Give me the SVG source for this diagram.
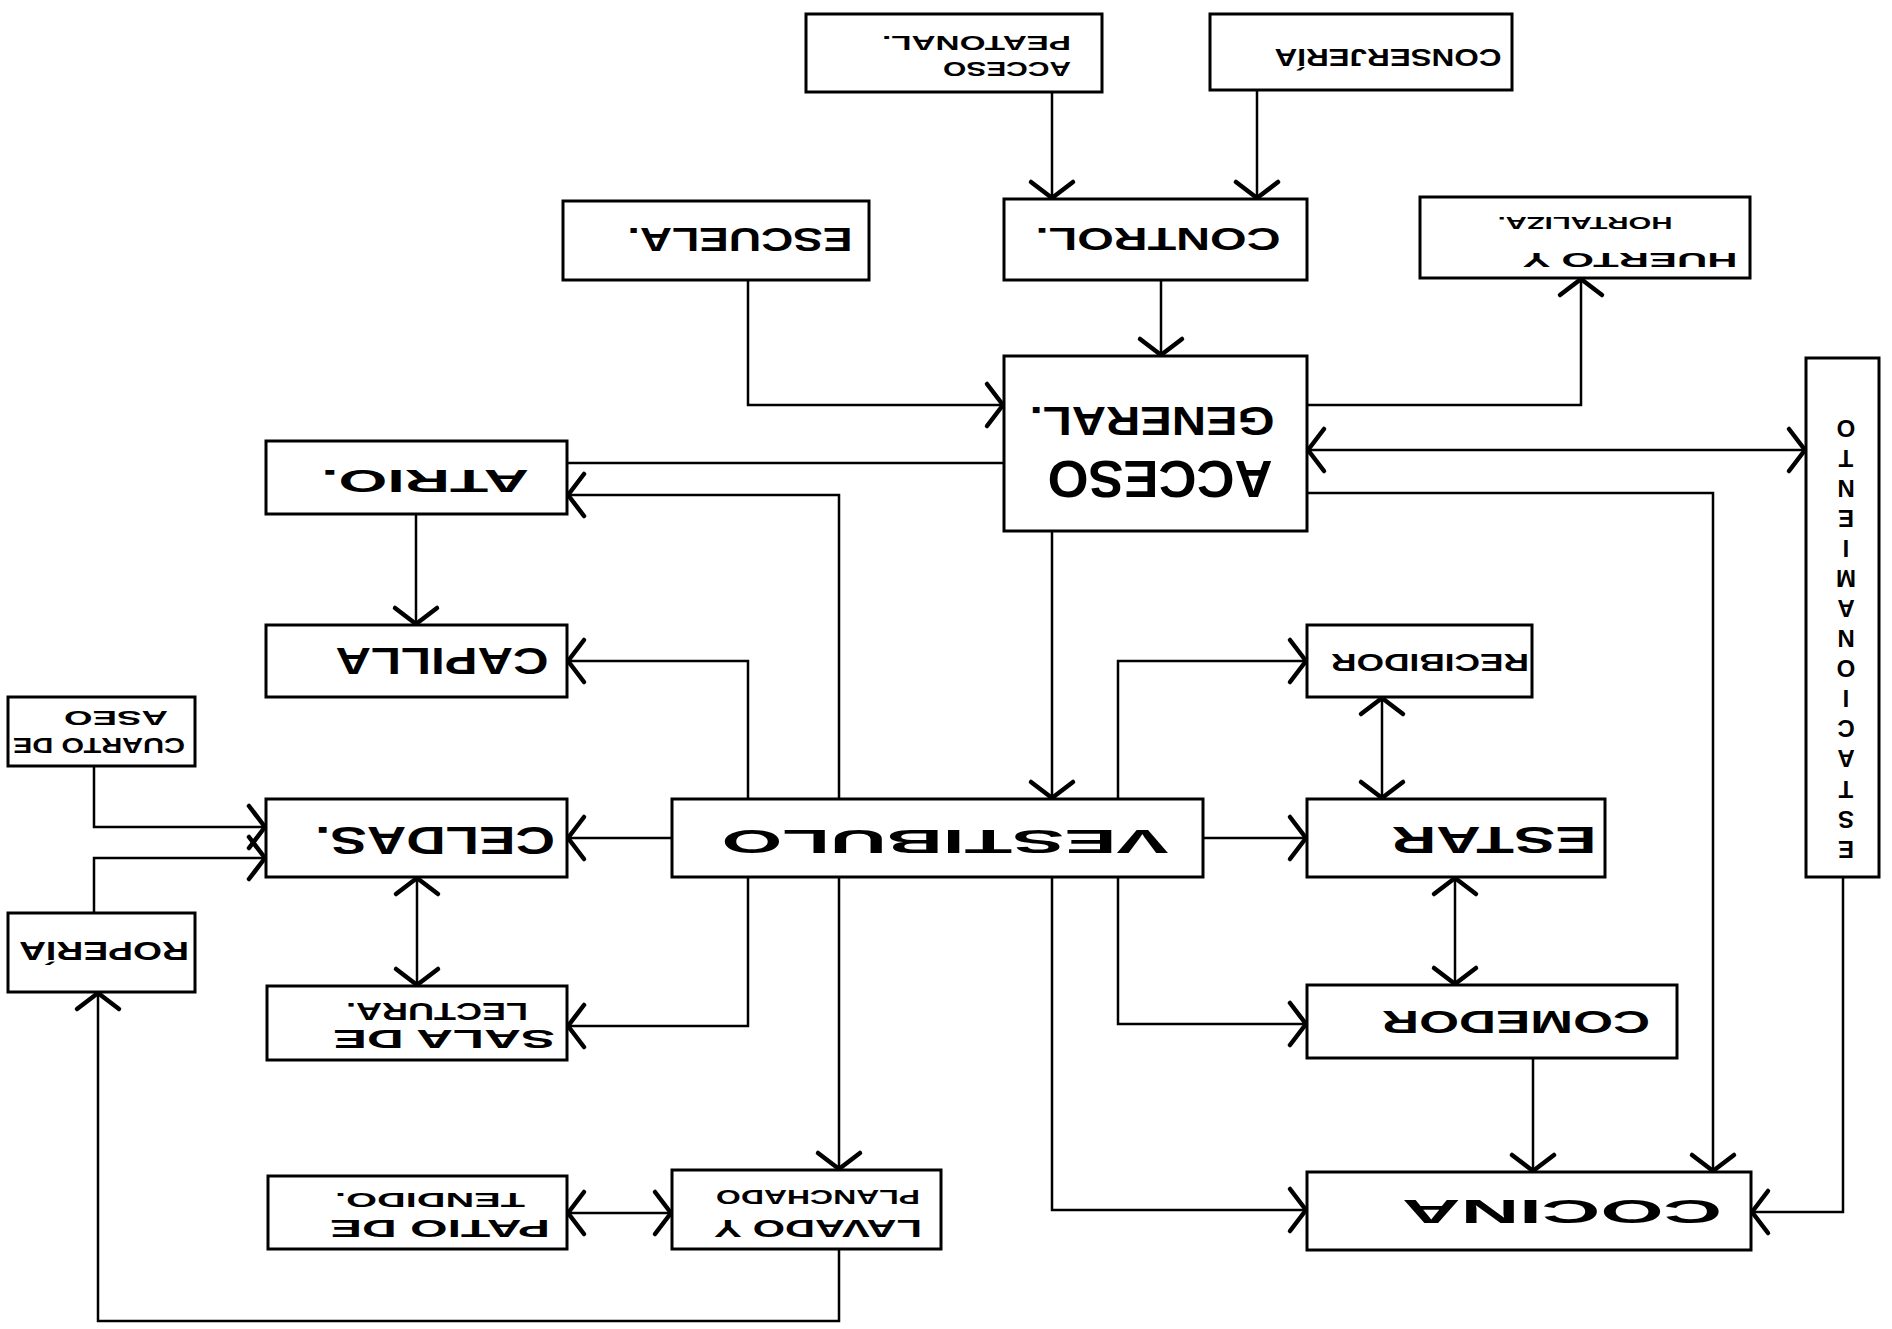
<svg xmlns="http://www.w3.org/2000/svg" width="1892" height="1329" viewBox="0 0 1892 1329">
<style>
.box{fill:#fff;stroke:#000;stroke-width:3}
.ln{fill:none;stroke:#000;stroke-width:2.5;marker-end:url(#arr)}
.bi{marker-start:url(#arr)}
.na{marker-end:none}
.t{font-family:"Liberation Sans",Arial,sans-serif;font-weight:bold;fill:#000;text-anchor:middle}
</style>
<defs>
<marker id="arr" markerUnits="userSpaceOnUse" markerWidth="50" markerHeight="60" viewBox="-30 -30 40 60" refX="0" refY="0" orient="auto-start-reverse">
<path d="M-17 -21 L-1 0 L-17 21" fill="none" stroke="#000" stroke-width="4.5" stroke-linecap="round" stroke-linejoin="round"/>
</marker>
</defs>
<rect width="1892" height="1329" fill="#fff"/>
<g id="connectors">
<path class="ln" d="M1052 92 V199"/>
<path class="ln" d="M1257 90 V199"/>
<path class="ln" d="M1161 280 V356"/>
<path class="ln" d="M748 280 V405 H1004"/>
<path class="ln" d="M1307 405 H1581 V278"/>
<path class="ln bi" d="M1307 450 H1806"/>
<path class="ln" d="M1307 493 H1713 V1172"/>
<path class="ln na" d="M1004 463 H567"/>
<path class="ln" d="M839 799 V495 H567"/>
<path class="ln" d="M839 877 V1170"/>
<path class="ln" d="M748 799 V661 H567"/>
<path class="ln" d="M748 877 V1026 H567"/>
<path class="ln" d="M1052 531 V799"/>
<path class="ln" d="M1052 877 V1210 H1307"/>
<path class="ln" d="M1118 799 V661 H1307"/>
<path class="ln" d="M1118 877 V1024 H1307"/>
<path class="ln" d="M1203 838 H1307"/>
<path class="ln" d="M672 838 H567"/>
<path class="ln bi" d="M1382 697 V799"/>
<path class="ln bi" d="M1455 877 V985"/>
<path class="ln" d="M1533 1058 V1172"/>
<path class="ln" d="M1843 877 V1212 H1751"/>
<path class="ln" d="M416 514 V625"/>
<path class="ln bi" d="M417 877 V986"/>
<path class="ln" d="M94 766 V827 H266"/>
<path class="ln" d="M94 913 V858 H266"/>
<path class="ln" d="M839 1249 V1321 H98 V992"/>
<path class="ln bi" d="M567 1213 H672"/>
</g>
<g id="acceso-peatonal"><rect class="box" x="806" y="14" width="296" height="78"/>
<text class="t" font-size="21" textLength="189" lengthAdjust="spacingAndGlyphs" dy="7.4" transform="translate(976.5,43) rotate(180)">PEATONAL.</text>
<text class="t" font-size="21" textLength="128" lengthAdjust="spacingAndGlyphs" dy="7.4" transform="translate(1007,69) rotate(180)">ACCESO</text></g>
<g id="conserjeria"><rect class="box" x="1210" y="14" width="302" height="76"/>
<text class="t" font-size="23" textLength="227" lengthAdjust="spacingAndGlyphs" dy="8" transform="translate(1388,57) rotate(180)">CONSERJERÍA</text></g>
<g id="escuela"><rect class="box" x="563" y="201" width="306" height="79"/>
<text class="t" font-size="33" textLength="225" lengthAdjust="spacingAndGlyphs" dy="11.5" transform="translate(740,239) rotate(180)">ESCUELA.</text></g>
<g id="control"><rect class="box" x="1004" y="199" width="303" height="81"/>
<text class="t" font-size="31" textLength="245" lengthAdjust="spacingAndGlyphs" dy="10.8" transform="translate(1158,239) rotate(180)">CONTROL.</text></g>
<g id="huerto"><rect class="box" x="1420" y="197" width="330" height="81"/>
<text class="t" font-size="17" textLength="175" lengthAdjust="spacingAndGlyphs" dy="6" transform="translate(1585,223) rotate(180)">HORTALIZA.</text>
<text class="t" font-size="20" textLength="215" lengthAdjust="spacingAndGlyphs" dy="7" transform="translate(1630,260) rotate(180)">HUERTO Y</text></g>
<g id="acceso-general"><rect class="box" x="1004" y="356" width="303" height="175"/>
<text class="t" font-size="40" textLength="245" lengthAdjust="spacingAndGlyphs" dy="14" transform="translate(1152,421) rotate(180)">GENERAL.</text>
<text class="t" font-size="52" textLength="225" lengthAdjust="spacingAndGlyphs" dy="18.2" transform="translate(1160,479) rotate(180)">ACCESO</text></g>
<g id="estacionamiento"><rect class="box" x="1806" y="358" width="73" height="519"/>
<text class="t" font-size="24" transform="translate(1846,638.5) rotate(180)"><tspan x="0" y="-202.1">E</tspan><tspan x="0" y="-172">S</tspan><tspan x="0" y="-142">T</tspan><tspan x="0" y="-111.9">A</tspan><tspan x="0" y="-81.8">C</tspan><tspan x="0" y="-51.8">I</tspan><tspan x="0" y="-21.7">O</tspan><tspan x="0" y="8.4">N</tspan><tspan x="0" y="38.5">A</tspan><tspan x="0" y="68.5">M</tspan><tspan x="0" y="98.6">I</tspan><tspan x="0" y="128.7">E</tspan><tspan x="0" y="158.7">N</tspan><tspan x="0" y="188.8">T</tspan><tspan x="0" y="218.9">O</tspan></text></g>
<g id="atrio"><rect class="box" x="266" y="441" width="301" height="73"/>
<text class="t" font-size="32" textLength="208" lengthAdjust="spacingAndGlyphs" dy="11.2" transform="translate(425,481) rotate(180)">ATRIO.</text></g>
<g id="capilla"><rect class="box" x="266" y="625" width="301" height="72"/>
<text class="t" font-size="36" textLength="213" lengthAdjust="spacingAndGlyphs" dy="12.6" transform="translate(442,661) rotate(180)">CAPILLA</text></g>
<g id="cuarto-aseo"><rect class="box" x="8" y="697" width="187" height="69"/>
<text class="t" font-size="21" textLength="104" lengthAdjust="spacingAndGlyphs" dy="7.4" transform="translate(116,718) rotate(180)">ASEO</text>
<text class="t" font-size="22" textLength="172" lengthAdjust="spacingAndGlyphs" dy="7.7" transform="translate(99,746) rotate(180)">CUARTO DE</text></g>
<g id="celdas"><rect class="box" x="266" y="799" width="301" height="78"/>
<text class="t" font-size="38" textLength="240" lengthAdjust="spacingAndGlyphs" dy="13.3" transform="translate(435,840) rotate(180)">CELDAS.</text></g>
<g id="roperia"><rect class="box" x="8" y="913" width="187" height="79"/>
<text class="t" font-size="26" textLength="170" lengthAdjust="spacingAndGlyphs" dy="9.1" transform="translate(104,951) rotate(180)">ROPERÍA</text></g>
<g id="sala-lectura"><rect class="box" x="267" y="986" width="300" height="74"/>
<text class="t" font-size="23" textLength="182" lengthAdjust="spacingAndGlyphs" dy="8" transform="translate(437,1011) rotate(180)">LECTURA.</text>
<text class="t" font-size="25" textLength="222" lengthAdjust="spacingAndGlyphs" dy="8.7" transform="translate(444,1039) rotate(180)">SALA DE</text></g>
<g id="vestibulo"><rect class="box" x="672" y="799" width="531" height="78"/>
<text class="t" font-size="33" textLength="447" lengthAdjust="spacingAndGlyphs" dy="11.5" transform="translate(945,841) rotate(180)">VESTIBULO</text></g>
<g id="recibidor"><rect class="box" x="1307" y="625" width="225" height="72"/>
<text class="t" font-size="23" textLength="198" lengthAdjust="spacingAndGlyphs" dy="8" transform="translate(1430,662) rotate(180)">RECIBIDOR</text></g>
<g id="estar"><rect class="box" x="1307" y="799" width="298" height="78"/>
<text class="t" font-size="37" textLength="205" lengthAdjust="spacingAndGlyphs" dy="13" transform="translate(1494,840) rotate(180)">ESTAR</text></g>
<g id="comedor"><rect class="box" x="1307" y="985" width="370" height="73"/>
<text class="t" font-size="32" textLength="268" lengthAdjust="spacingAndGlyphs" dy="11.2" transform="translate(1516,1022) rotate(180)">COMEDOR</text></g>
<g id="lavado"><rect class="box" x="672" y="1170" width="269" height="79"/>
<text class="t" font-size="20" textLength="204" lengthAdjust="spacingAndGlyphs" dy="7" transform="translate(818,1197) rotate(180)">PLANCHADO</text>
<text class="t" font-size="23" textLength="208" lengthAdjust="spacingAndGlyphs" dy="8" transform="translate(818,1228) rotate(180)">LAVADO Y</text></g>
<g id="patio-tendido"><rect class="box" x="268" y="1176" width="299" height="73"/>
<text class="t" font-size="20" textLength="190" lengthAdjust="spacingAndGlyphs" dy="7" transform="translate(430,1200) rotate(180)">TENDIDO.</text>
<text class="t" font-size="23" textLength="220" lengthAdjust="spacingAndGlyphs" dy="8" transform="translate(440,1228) rotate(180)">PATIO DE</text></g>
<g id="cocina"><rect class="box" x="1307" y="1172" width="444" height="78"/>
<text class="t" font-size="33" textLength="320" lengthAdjust="spacingAndGlyphs" dy="11.5" transform="translate(1562,1211) rotate(180)">COCINA</text></g>
</svg>
